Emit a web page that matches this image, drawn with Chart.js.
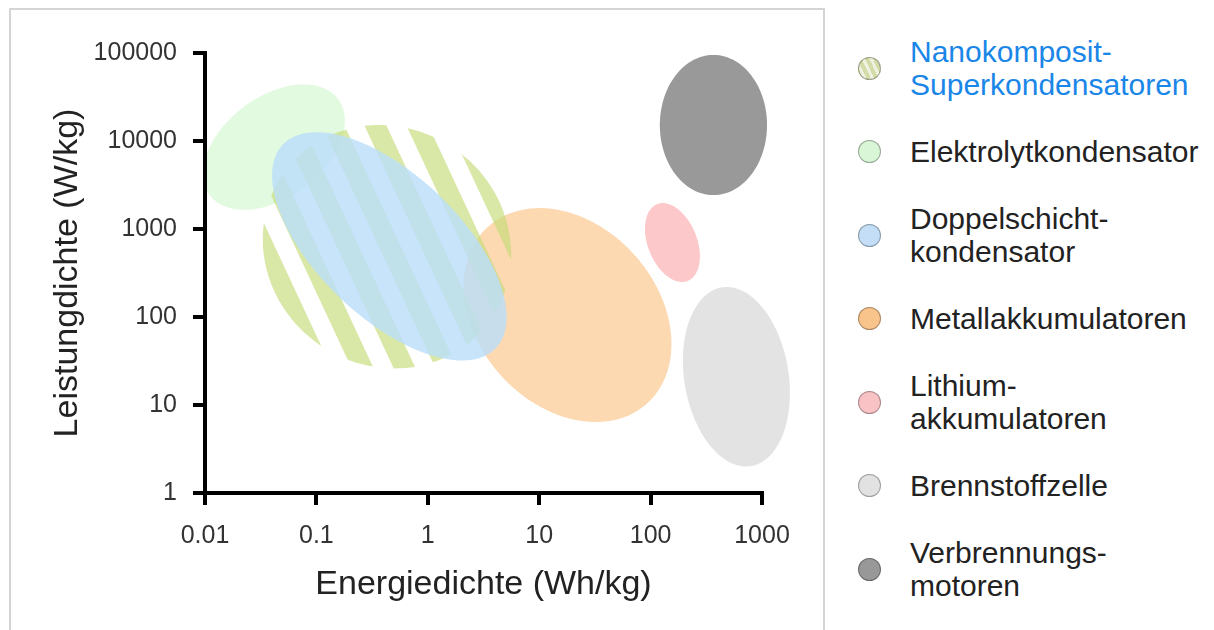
<!DOCTYPE html>
<html>
<head>
<meta charset="utf-8">
<script src="https://cdn.jsdelivr.net/npm/chart.js@4.4.0/dist/chart.umd.min.js"></script>
<style>
  html, body { margin: 0; padding: 0; background: #fff; overflow: hidden; }
  body { width: 1214px; height: 630px; position: relative; font-family: 'Liberation Sans', Arial, sans-serif; }
  #frame { position: absolute; left: 9px; top: 8px; width: 816px; height: 700px; border: 2px solid #d4d4d4; box-sizing: border-box; }
  #chart { position: absolute; left: 0; top: 0; }
  #legend { position: absolute; left: 858px; top: 35px; display: flex; flex-direction: column; gap: 34px; }
  .item { display: flex; align-items: center; }
  .dot { width: 23px; height: 23px; border-radius: 50%; box-sizing: border-box; border: 1px solid rgba(0,0,0,0.3); margin-right: 29px; flex: none; }
  .label { font-size: 30px; line-height: 33px; color: #222; white-space: nowrap; }
</style>
</head>
<body>
<div id="frame"></div>
<canvas id="chart" width="830" height="630"></canvas>
<div id="legend"></div>
<script>
// Ragone-Diagramm: each technology is an ellipse in log-log space
const categories = ['Nanokomposit-Superkondensatoren', 'Elektrolytkondensator', 'Doppelschichtkondensator',
                    'Metallakkumulatoren', 'Lithiumakkumulatoren', 'Brennstoffzelle', 'Verbrennungsmotoren'];
const legendLines = [['Nanokomposit-', 'Superkondensatoren'], ['Elektrolytkondensator'], ['Doppelschicht-', 'kondensator'],
                     ['Metallakkumulatoren'], ['Lithium-', 'akkumulatoren'], ['Brennstoffzelle'], ['Verbrennungs-', 'motoren']];
// energy density range (Wh/kg)
const energyMin = [0.033, 0.0096, 0.040, 2.1, 89, 195, 121];
const energyMax = [5.6, 0.18, 5.1, 154, 277, 1780, 1110];
// power density range (W/kg)
const powerMin = [26, 1650, 32, 6.4, 250, 2.0, 2430];
const powerMax = [15200, 44000, 12600, 1730, 1970, 219, 95000];
// correlation of log(E) and log(P) inside each ellipse (tilt)
const tilt = [-0.06, 0.42, -0.62, -0.27, -0.35, -0.18, 0];

const xTicks = [0.01, 0.1, 1, 10, 100, 1000];
const yTicks = [1, 10, 100, 1000, 10000, 100000];

const FONT = "'Liberation Sans', Arial, sans-serif";
const fills = ['rgba(196,218,120,0.65)', 'rgb(226,250,224)', 'rgba(187,222,249,0.82)', 'rgb(252,217,177)',
               'rgb(252,200,201)', 'rgb(227,227,227)', 'rgb(153,153,153)'];
const markers = ['repeating-linear-gradient(65deg, #d3dca8 0 4px, #f1f1e2 4px 7px)', '#d9f6d6', '#c3def6', '#f9c48c',
                 '#f9c3c6', '#e2e2e2', '#989898'];
const hatched = [true, false, false, false, false, false, false];
const drawOrder = [1, 3, 0, 2, 4, 5, 6];

function ellipsePath(xs, ys, i) {
  const cx = (Math.log10(energyMin[i]) + Math.log10(energyMax[i])) / 2;
  const rx = (Math.log10(energyMax[i]) - Math.log10(energyMin[i])) / 2;
  const cy = (Math.log10(powerMin[i]) + Math.log10(powerMax[i])) / 2;
  const ry = (Math.log10(powerMax[i]) - Math.log10(powerMin[i])) / 2;
  const r = tilt[i], q = Math.sqrt(1 - r * r);
  const p = new Path2D();
  for (let k = 0; k <= 120; k++) {
    const t = k / 120 * 2 * Math.PI;
    const px = xs.getPixelForValue(10 ** (cx + rx * Math.cos(t)));
    const py = ys.getPixelForValue(10 ** (cy + ry * (r * Math.cos(t) + q * Math.sin(t))));
    if (k === 0) p.moveTo(px, py); else p.lineTo(px, py);
  }
  p.closePath();
  return p;
}

function drawStripes(ctx, path, xs, ys, i) {
  const cx = xs.getPixelForValue(Math.sqrt(energyMin[i] * energyMax[i]));
  const cy = ys.getPixelForValue(Math.sqrt(powerMin[i] * powerMax[i]));
  const slope = 1 / Math.tan(65 * Math.PI / 180);
  const h = 200;
  ctx.save();
  ctx.clip(path);
  ctx.fillStyle = fills[i];
  for (let k = -8; k <= 8; k++) {
    const x0 = cx - 8 + k * 42;
    ctx.beginPath();
    ctx.moveTo(x0 - h * slope, cy - h);
    ctx.lineTo(x0 + 22 - h * slope, cy - h);
    ctx.lineTo(x0 + 22 + h * slope, cy + h);
    ctx.lineTo(x0 + h * slope, cy + h);
    ctx.closePath();
    ctx.fill();
  }
  ctx.restore();
}

const ellipsePlugin = {
  id: 'ellipses',
  beforeDraw(chart) {
    const ctx = chart.ctx;
    const xs = chart.scales.x, ys = chart.scales.y;
    drawOrder.forEach(i => {
      const path = ellipsePath(xs, ys, i);
      if (hatched[i]) {
        drawStripes(ctx, path, xs, ys, i);
      } else {
        ctx.save();
        ctx.fillStyle = fills[i];
        ctx.fill(path);
        ctx.restore();
      }
    });
  }
};

const axisStyle = {
  grid: { display: true, drawOnChartArea: false, drawTicks: true, tickLength: 12, color: '#000', lineWidth: 4 },
  border: { display: true, color: '#000', width: 4 }
};

new Chart(document.getElementById('chart'), {
  type: 'scatter',
  data: {
    datasets: categories.map((c, i) => ({
      label: c,
      data: [{ x: Math.sqrt(energyMin[i] * energyMax[i]), y: Math.sqrt(powerMin[i] * powerMax[i]) }],
      pointRadius: 0,
      backgroundColor: fills[i]
    }))
  },
  options: {
    responsive: false,
    animation: false,
    layout: { padding: { left: 0, top: 53, right: 68, bottom: 20 } },
    plugins: { legend: { display: false }, tooltip: { enabled: false } },
    scales: {
      x: {
        type: 'logarithmic', position: 'bottom', min: 0.01, max: 1000,
        afterBuildTicks: s => { s.ticks = xTicks.map(v => ({ value: v })); },
        afterFit: s => { s.height = 117; },
        ...axisStyle,
        ticks: { color: '#333', font: { family: FONT, size: 25 }, padding: 16, maxRotation: 0, autoSkip: false,
                 callback: v => String(v) },
        title: { display: true, text: 'Energiedichte (Wh/kg)', color: '#222', font: { family: FONT, size: 34 },
                 padding: { top: 0, bottom: 5 } }
      },
      y: {
        type: 'logarithmic', position: 'left', min: 1, max: 100000,
        afterBuildTicks: s => { s.ticks = yTicks.map(v => ({ value: v })); },
        afterFit: s => { s.width = 205; },
        ...axisStyle,
        ticks: { color: '#333', font: { family: FONT, size: 25 }, padding: 16, autoSkip: false,
                 callback: v => String(v) },
        title: { display: true, text: 'Leistungdichte (W/kg)', color: '#222', font: { family: FONT, size: 34 },
                 padding: { top: 47, bottom: 0 } }
      }
    }
  },
  plugins: [ellipsePlugin]
});

// legend
const legend = document.getElementById('legend');
categories.forEach((c, i) => {
  const item = document.createElement('div');
  item.className = 'item';
  const dot = document.createElement('div');
  dot.className = 'dot';
  dot.style.background = markers[i];
  const label = document.createElement('div');
  label.className = 'label';
  if (i === 0) label.style.color = '#1a86e8';
  label.innerHTML = legendLines[i].join('<br>');
  item.appendChild(dot);
  item.appendChild(label);
  legend.appendChild(item);
});
</script>
</body>
</html>
